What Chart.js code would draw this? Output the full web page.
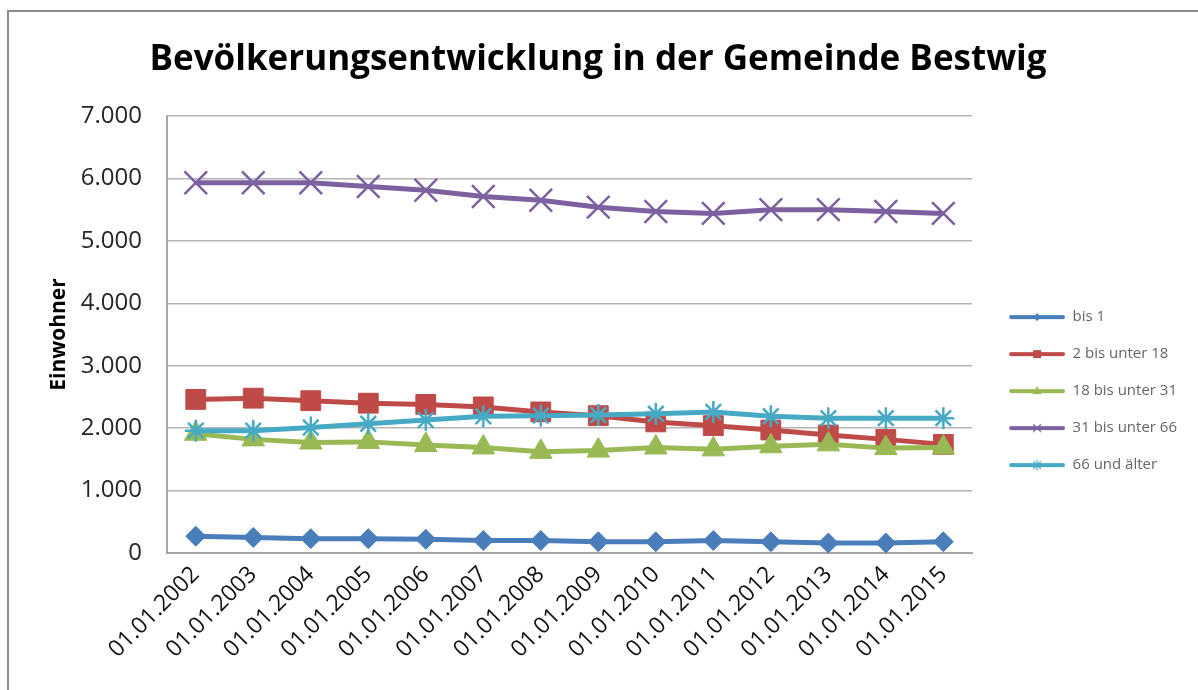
<!DOCTYPE html>
<html>
<head>
<meta charset="utf-8">
<script src="https://cdn.jsdelivr.net/npm/chart.js@4.4.1/dist/chart.umd.min.js"></script>
<style>
  html, body { margin: 0; padding: 0; background: #fff; overflow: hidden; }
  #wrap { position: relative; width: 1198px; height: 690px; }
  #frame { position: absolute; left: 7px; top: 10px; width: 1300px; height: 800px;
           border-left: 2px solid #8c8c8c; border-top: 2px solid #8c8c8c; }
  #c { position: absolute; left: 0; top: 0; }
</style>
</head>
<body>
<div id="wrap">
  <div id="frame"></div>
  <canvas id="c" width="1198" height="690"></canvas>
</div>
<script>
const titleText = 'Bevölkerungsentwicklung in der Gemeinde Bestwig';
const yAxisTitle = 'Einwohner';
const categories = ['01.01.2002','01.01.2003','01.01.2004','01.01.2005','01.01.2006','01.01.2007','01.01.2008',
                    '01.01.2009','01.01.2010','01.01.2011','01.01.2012','01.01.2013','01.01.2014','01.01.2015'];
const seriesNames = ['bis 1', '2 bis unter 18', '18 bis unter 31', '31 bis unter 66', '66 und älter'];
const bis1      = [270, 250, 230, 230, 220, 200, 200, 180, 180, 200, 180, 160, 160, 180];
const bis18     = [2460, 2480, 2440, 2400, 2380, 2340, 2260, 2200, 2100, 2040, 1970, 1890, 1820, 1740];
const bis31     = [1910, 1820, 1770, 1780, 1730, 1690, 1620, 1640, 1690, 1660, 1710, 1740, 1680, 1690];
const bis66     = [5930, 5930, 5930, 5870, 5810, 5710, 5650, 5540, 5470, 5440, 5500, 5500, 5470, 5440];
const ab66      = [1960, 1960, 2010, 2070, 2130, 2190, 2200, 2210, 2230, 2260, 2190, 2160, 2160, 2160];
const yTicks = [0, 1000, 2000, 3000, 4000, 5000, 6000, 7000];

const colors = ['#4A7EBB', '#BE4B48', '#98B954', '#7D60A0', '#46AAC5'];
const styles = ['rectRot', 'rect', 'triangle', 'crossRot', 'star'];
const radii = [10, 14, 13, 16, 11];
const values = [bis1, bis18, bis31, bis66, ab66];

Chart.defaults.font.family = "'Open Sans', sans-serif";

function legendIcon(color, style) {
  const cv = document.createElement('canvas');
  cv.width = 71; cv.height = 14;
  const g = cv.getContext('2d');
  g.strokeStyle = color; g.fillStyle = color;
  g.lineCap = 'round'; g.lineWidth = 4;
  g.beginPath(); g.moveTo(17, 7); g.lineTo(69, 7); g.stroke();
  const cx = 43, cy = 7;
  g.lineWidth = 1.2;
  g.beginPath();
  if (style === 'rectRot') { g.moveTo(cx-4, cy); g.lineTo(cx, cy-4); g.lineTo(cx+4, cy); g.lineTo(cx, cy+4); g.closePath(); g.fill(); }
  else if (style === 'rect') { g.fillRect(cx-4, cy-4, 8, 8); }
  else if (style === 'triangle') { g.moveTo(cx, cy-5); g.lineTo(cx+4.5, cy+3); g.lineTo(cx-4.5, cy+3); g.closePath(); g.fill(); }
  else if (style === 'crossRot') { g.moveTo(cx-3.5, cy-3.5); g.lineTo(cx+3.5, cy+3.5); g.moveTo(cx+3.5, cy-3.5); g.lineTo(cx-3.5, cy+3.5); g.stroke(); }
  else { g.moveTo(cx-3.5, cy-3.5); g.lineTo(cx+3.5, cy+3.5); g.moveTo(cx+3.5, cy-3.5); g.lineTo(cx-3.5, cy+3.5); g.moveTo(cx, cy-5); g.lineTo(cx, cy+5); g.stroke(); }
  return cv;
}

const datasets = seriesNames.map((name, i) => ({
  label: name,
  data: values[i],
  borderColor: colors[i],
  backgroundColor: colors[i],
  borderWidth: 5,
  pointStyle: styles[i],
  pointRadius: radii[i],
  pointHoverRadius: radii[i],
  pointBackgroundColor: colors[i],
  pointBorderColor: colors[i],
  pointBorderWidth: (styles[i] === 'crossRot' || styles[i] === 'star') ? 2.5 : 1,
  tension: 0,
  order: 5 - i
}));

new Chart(document.getElementById('c'), {
  type: 'line',
  data: { labels: categories, datasets },
  options: {
    responsive: false,
    animation: false,
    devicePixelRatio: 1,
    layout: { padding: { top: 10, left: 9, right: 11, bottom: 0 } },
    plugins: {
      title: {
        display: true, text: titleText, color: '#000',
        font: { size: 35, weight: 'bold' },
        padding: { top: 29, bottom: 35 }
      },
      legend: {
        position: 'right',
        align: 'start',
        title: { display: true, text: '', padding: { top: 262, bottom: 0 }, font: { size: 13 } },
        labels: {
          color: '#000', font: { size: 15 }, padding: 22,
          usePointStyle: true, pointStyleWidth: 71,
          generateLabels: (chart) => chart.data.datasets.map((ds, i) => ({
            text: ds.label, datasetIndex: i, hidden: false,
            pointStyle: legendIcon(colors[i], styles[i]),
            fillStyle: colors[i], strokeStyle: colors[i], lineWidth: 0
          }))
        }
      },
      tooltip: { enabled: false }
    },
    scales: {
      x: {
        offset: true,
        grid: { display: false, drawTicks: false },
        border: { display: true, color: '#a6a6a6', width: 2 },
        ticks: { color: '#111', font: { size: 23 }, minRotation: 45, maxRotation: 45, autoSkip: false, padding: 8 },
        afterFit: (s) => { s.height = 137; }
      },
      y: {
        min: 0, max: 7000,
        afterBuildTicks: (s) => { s.ticks = yTicks.map(v => ({ value: v })); },
        grid: { color: '#b4b4b4', lineWidth: 1.5, drawTicks: false },
        border: { display: true, color: '#a6a6a6', width: 2 },
        ticks: { color: '#262626', font: { size: 24 }, padding: 25,
                 callback: (v) => v.toLocaleString('de-DE') },
        title: { display: true, text: yAxisTitle, color: '#000', font: { size: 21, weight: 'bold' },
                 padding: { top: 37, bottom: 0 } },
        afterFit: (s) => { s.width = 158; }
      }
    }
  }
});
</script>
</body>
</html>
